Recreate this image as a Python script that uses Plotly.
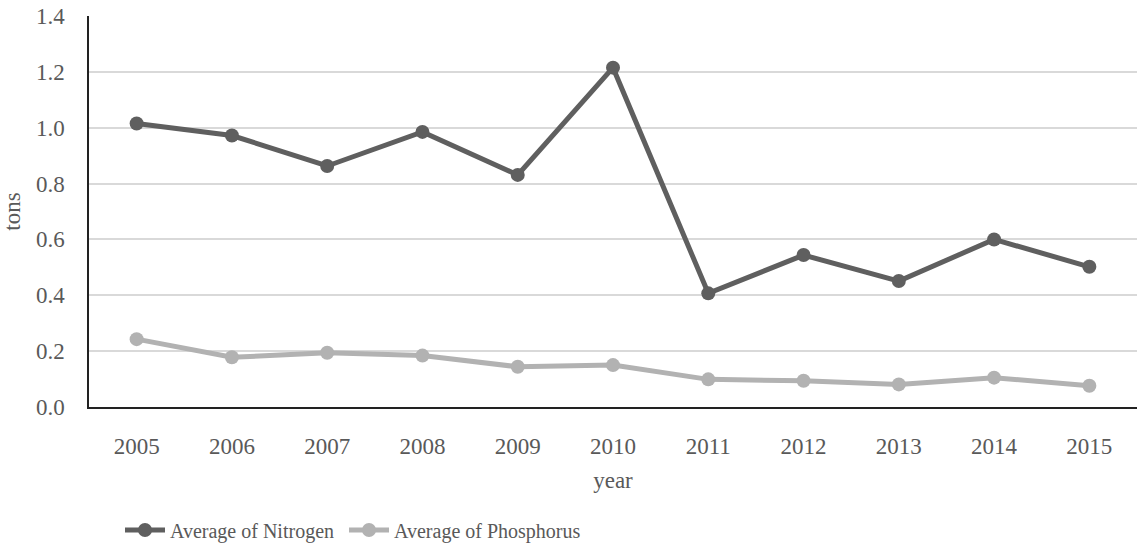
import plotly.graph_objects as go

years = ["2005", "2006", "2007", "2008", "2009", "2010",
         "2011", "2012", "2013", "2014", "2015"]
nitrogen = [1.015, 0.972, 0.863, 0.985, 0.831, 1.215,
            0.407, 0.544, 0.451, 0.600, 0.502]
phosphorus = [0.243, 0.178, 0.194, 0.184, 0.144, 0.150,
              0.099, 0.094, 0.081, 0.105, 0.076]
y_ticks = [0.0, 0.2, 0.4, 0.6, 0.8, 1.0, 1.2, 1.4]

FONT = "Liberation Serif"
TEXT = "#595959"

fig = go.Figure()
fig.add_trace(go.Scatter(
    x=years, y=nitrogen, name="Average of Nitrogen\u00a0",
    mode="lines+markers",
    line=dict(color="#5f5f5f", width=5),
    marker=dict(color="#5f5f5f", size=14),
))
fig.add_trace(go.Scatter(
    x=years, y=phosphorus, name="Average of Phosphorus",
    mode="lines+markers",
    line=dict(color="#b2b2b2", width=5),
    marker=dict(color="#b2b2b2", size=14),
))

fig.update_layout(
    width=1138, height=547,
    margin=dict(l=89, r=1, t=16, b=140),
    paper_bgcolor="white", plot_bgcolor="white",
    font=dict(family=FONT, color=TEXT, size=23),
    showlegend=True,
    legend=dict(
        orientation="h",
        xref="container", yref="container",
        x=120 / 1138, y=1 - 530 / 547,
        xanchor="left", yanchor="middle",
        font=dict(family=FONT, color=TEXT, size=20),
        itemwidth=40,
        tracegroupgap=0,
    ),
)

fig.update_xaxes(
    type="category",
    range=[-0.5, 10.5],
    showgrid=False,
    showline=True, linecolor="#222222", linewidth=1.5,
    ticks="", ticklabelstandoff=18,
    tickfont=dict(family=FONT, color=TEXT, size=23),
    title=dict(text="year", standoff=14,
               font=dict(family=FONT, color=TEXT, size=23)),
)
fig.update_yaxes(
    range=[0, 1.4],
    tickvals=y_ticks,
    ticktext=[f"{v:.1f}" for v in y_ticks],
    showgrid=True, gridcolor="#d9d9d9", gridwidth=1.5,
    zeroline=False,
    showline=True, linecolor="#222222", linewidth=1.5,
    ticks="", ticklabelstandoff=18,
    tickfont=dict(family=FONT, color=TEXT, size=23),
    title=dict(text="tons", standoff=12,
               font=dict(family=FONT, color=TEXT, size=23)),
)

fig.write_html("out.html")
